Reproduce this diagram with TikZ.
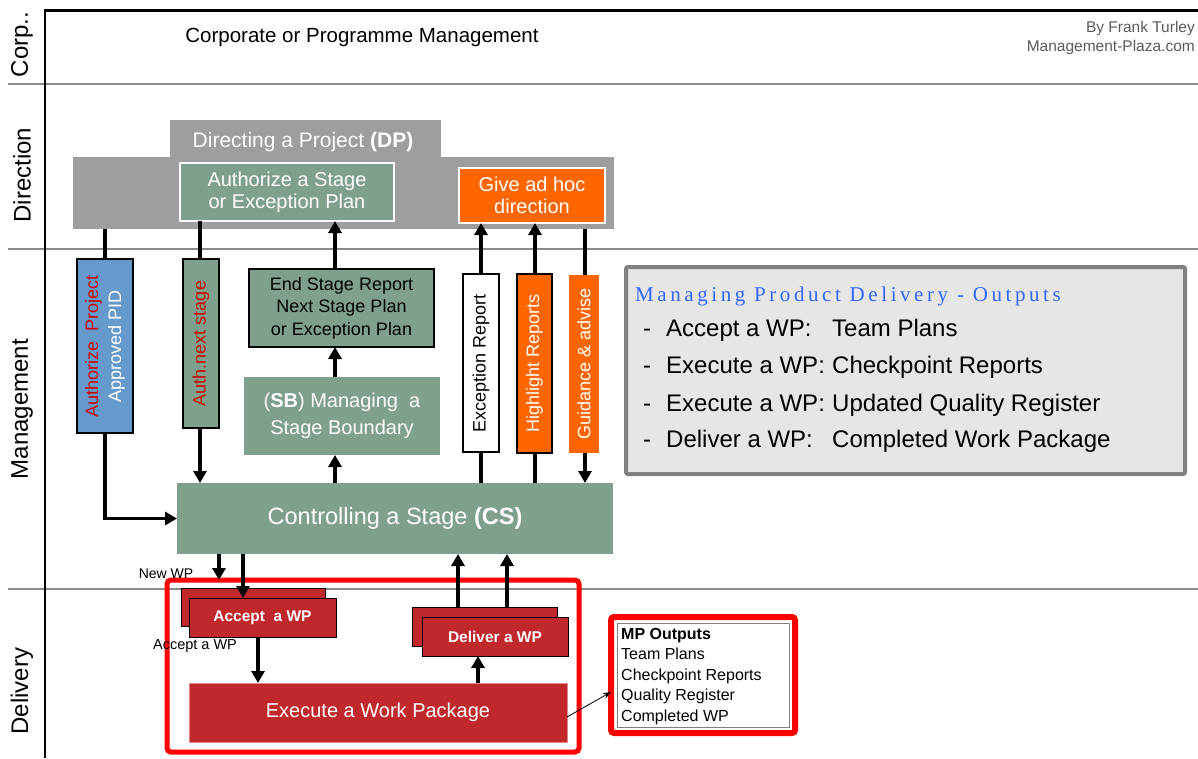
\documentclass[tikz,border=0pt]{standalone}
\usepackage{fontspec}
\usepackage{graphicx}
\setmainfont{Liberation Sans}
\newfontfamily\mpdserif[LetterSpace=17]{Liberation Serif}
\usetikzlibrary{arrows.meta,calc}
\definecolor{dpgray}{HTML}{9E9E9E}
\definecolor{sage}{HTML}{7FA08C}
\definecolor{orng}{HTML}{FF6600}
\definecolor{steel}{HTML}{6699CC}
\definecolor{wpred}{HTML}{C0282C}
\definecolor{redframe}{HTML}{FF0000}
\definecolor{txtred}{HTML}{CC0000}
\definecolor{lanegray}{HTML}{8C8C8C}
\definecolor{mpdfill}{HTML}{E6E6E6}
\definecolor{mpdline}{HTML}{808080}
\definecolor{mpdblue}{HTML}{3366FF}
\definecolor{credit}{HTML}{5A5A5A}
\newcommand\fsz[2]{\fontsize{#1}{#2}\selectfont}
\begin{document}
\begin{tikzpicture}[x=1pt,y=-1pt,
  box/.style={rectangle,inner sep=0pt,outer sep=0pt},
  sz/.style 2 args={minimum width=#1pt,minimum height=#2pt},
  ln/.style={line width=3.6pt},
  arr/.style={line width=3.6pt,-{Triangle[width=13pt,length=12pt]}},
  lane/.style={draw=lanegray,line width=2pt},
  lanelbl/.style={rotate=90,font=\fsz{24}{28},inner sep=0pt},
  vtxt/.style={rotate=90,inner sep=0pt,font=\fsz{18}{23},align=center},
  wpbox/.style={box,fill=wpred,draw=black,line width=0.8pt,text=white,font=\fsz{15.5}{18}\bfseries},
  mpdtxt/.style={anchor=base west,inner sep=0pt,font=\fsz{24}{28}},
]
\useasboundingbox (0,0) rectangle (1198,758);
% lanes
\draw[lane] (8,84) -- (1198,84);
\draw[lane] (8,249) -- (1198,249);
\draw[lane] (8,589) -- (1198,589);
\draw[line width=3pt] (44,10) -- (1198,10);
\draw[line width=2pt] (45,8.5) -- (45,758);
\node[lanelbl] (lcorp) at (22,44.5) {Corp..};
\node[lanelbl] (ldir) at (22,175) {Direction};
\node[lanelbl] (lman) at (22,409) {Management};
\node[lanelbl] (ldel) at (22,691) {Delivery};
% corporate
\node[font=\fsz{20.5}{24},inner sep=0pt] (corp) at (362,37) {Corporate or Programme Management};
\node[anchor=east,font=\fsz{15.5}{19},text=credit,inner sep=0pt,align=right] (credit) at (1195,37.5) {By Frank Turley\\Management-Plaza.com};
% direction
\node[box,fill=dpgray,sz={271}{38}] (dptab) at (305.5,138.5) {};
\node[box,fill=dpgray,sz={541}{72}] (dp) at (343.5,193) {};
\node[text=white,font=\fsz{21}{25},inner sep=0pt] (dptxt) at (303,142) {Directing a Project \textbf{(DP)}};
\node[box,fill=sage,draw=white,line width=2pt,sz={214}{58},text=white,font=\fsz{20}{22},align=center] (auth) at (287,192) {Authorize a Stage\\or Exception Plan};
\node[box,fill=orng,draw=white,line width=2pt,sz={146}{55},text=white,font=\fsz{20}{22},align=center] (adhoc) at (532,195.5) {Give ad hoc\\direction};
% management
\node[box,fill=steel,draw=black,line width=2pt,sz={56}{174}] (pid) at (105,346) {};
\node[vtxt] (pidt) at (pid.center) {\textcolor{txtred}{Authorize\ \ Project}\\\textcolor{white}{Approved PID}};
\node[box,fill=sage,draw=black,line width=2pt,sz={36}{169}] (authnext) at (201,343.5) {};
\node[vtxt,text=txtred] (authnextt) at (authnext.center) {Auth.next stage};
\node[box,fill=sage,draw=black,line width=2pt,sz={185}{78},font=\fsz{18}{22.5},align=center] (esr) at (341.5,308) {End Stage Report\\Next Stage Plan\\or Exception Plan};
\node[box,fill=sage,sz={196}{78},text=white,font=\fsz{20}{27},align=center] (sb) at (342,416) {(\textbf{SB}) Managing\ \ a\\Stage Boundary};
\node[box,fill=white,draw=black,line width=2pt,sz={36}{178}] (exrep) at (481,363) {};
\node[vtxt] (exrept) at (exrep.center) {Exception Report};
\node[box,fill=orng,draw=black,line width=2pt,sz={35}{179}] (hirep) at (534.5,363.5) {};
\node[vtxt,text=white] (hirept) at (hirep.center) {Highlight Reports};
\node[box,fill=orng,sz={30}{178}] (guid) at (584,364) {};
\node[vtxt,text=white] (guidt) at (guid.center) {Guidance \& advise};
\node[box,fill=sage,sz={436}{71},text=white,font=\fsz{23.5}{27}] (cs) at (395,518.5) {Controlling a Stage \textbf{(CS)}};
% MPD outputs box
\node[box,fill=mpdfill,draw=mpdline,line width=4pt,rounded corners=2pt,sz={559}{207}] (mpd) at (905.5,370.5) {};
\node[anchor=base west,inner sep=0pt,text=mpdblue,font=\mpdserif\fsz{21}{25}] (mpdtitle) at (635,301) {Managing Product Delivery - Outputs};
\node[mpdtxt] (d1) at (643,336) {-};
\node[mpdtxt] (a1) at (666,336) {Accept a WP:};
\node[mpdtxt] (b1) at (832,336) {Team Plans};
\node[mpdtxt] (d2) at (643,373) {-};
\node[mpdtxt] (a2) at (666,373) {Execute a WP:};
\node[mpdtxt] (b2) at (832,373) {Checkpoint Reports};
\node[mpdtxt] (d3) at (643,411) {-};
\node[mpdtxt] (a3) at (666,411) {Execute a WP:};
\node[mpdtxt] (b3) at (832,411) {Updated Quality Register};
\node[mpdtxt] (d4) at (643,447) {-};
\node[mpdtxt] (a4) at (666,447) {Deliver a WP:};
\node[mpdtxt] (b4) at (832,447) {Completed Work Package};
% delivery
\node[box,draw=redframe,line width=5pt,rounded corners=4pt,sz={412}{172}] (wpframe) at (373,666) {};
\node[wpbox,sz={144}{38}] (accb) at (253,607) {};
\node[wpbox,sz={147}{39}] (accf) at (262.5,617.5) {Accept\ \ a WP};
\node[wpbox,sz={145}{39}] (delb) at (484.5,626.5) {};
\node[wpbox,sz={146}{39}] (delf) at (495,636.5) {Deliver a WP};
\node[box,fill=wpred,draw=wpred!55!white,line width=0.8pt,sz={378}{59},text=white,font=\fsz{20}{23}] (exec) at (378,712.5) {Execute a Work Package};
\node[font=\fsz{14}{16},inner sep=0pt] (newwplbl) at (166,574) {New WP};
\node[font=\fsz{14.5}{16},inner sep=0pt] (acclbl) at (195,646) {Accept a WP};
\node[box,fill=white,draw=redframe,line width=6pt,rounded corners=3pt,sz={184}{116}] (mp) at (703,675) {};
\draw[mpdline,line width=1pt] ($(mp.north west)+(6,6)$) rectangle ($(mp.south east)+(-6,-6)$);
\node[anchor=north west,inner sep=0pt,align=left,font=\fsz{16}{20.5}] (mptxt) at (621,628) {\textbf{MP Outputs}\\Team Plans\\Checkpoint Reports\\Quality Register\\Completed WP};
% columns
\coordinate (xA) at (105,0);
\coordinate (xB) at (200,0);
\coordinate (xC) at (335,0);
\coordinate (xD) at (481,0);
\coordinate (xE) at (535,0);
\coordinate (xF) at (585,0);
\coordinate (xG) at (219,0);
\coordinate (xH) at (243,0);
\coordinate (xI) at (458,0);
\coordinate (xJ) at (507,0);
\coordinate (xK) at (258,0);
\coordinate (xL) at (478,0);
\coordinate (newwp) at (219,580);
% connectors
\draw[ln] (dp.south -| xA) -- (pid.north -| xA);
\draw[arr] (pid.south -| xA) |- (cs.west);
\draw[ln] (auth.south -| xB) -- (authnext.north -| xB);
\draw[arr] (authnext.south -| xB) -- (cs.north -| xB);
\draw[arr] (esr.north -| xC) -- (auth.south -| xC);
\draw[arr] (sb.north -| xC) -- (esr.south -| xC);
\draw[arr] (cs.north -| xC) -- (sb.south -| xC);
\draw[arr] (exrep.north -| xD) -- (adhoc.south -| xD);
\draw[ln] (cs.north -| xD) -- (exrep.south -| xD);
\draw[arr] (hirep.north -| xE) -- (adhoc.south -| xE);
\draw[ln] (cs.north -| xE) -- (hirep.south -| xE);
\draw[ln] (dp.south -| xF) -- (guid.north -| xF);
\draw[arr] (guid.south -| xF) -- (cs.north -| xF);
\draw[arr] (cs.south -| xG) -- (newwp);
\draw[arr] (cs.south -| xH) -- (accf.north -| xH);
\draw[arr] (accf.south -| xK) -- (exec.north -| xK);
\draw[arr] (exec.north -| xL) -- (delf.south -| xL);
\draw[arr] (delb.north -| xI) -- (cs.south -| xI);
\draw[arr] (delb.north -| xJ) -- (cs.south -| xJ);
\draw[line width=0.8pt,-{Stealth[length=8pt,width=6pt]}] ([yshift=-4.5pt]exec.east) -- ([yshift=-17pt]mp.west);
\end{tikzpicture}
\end{document}
